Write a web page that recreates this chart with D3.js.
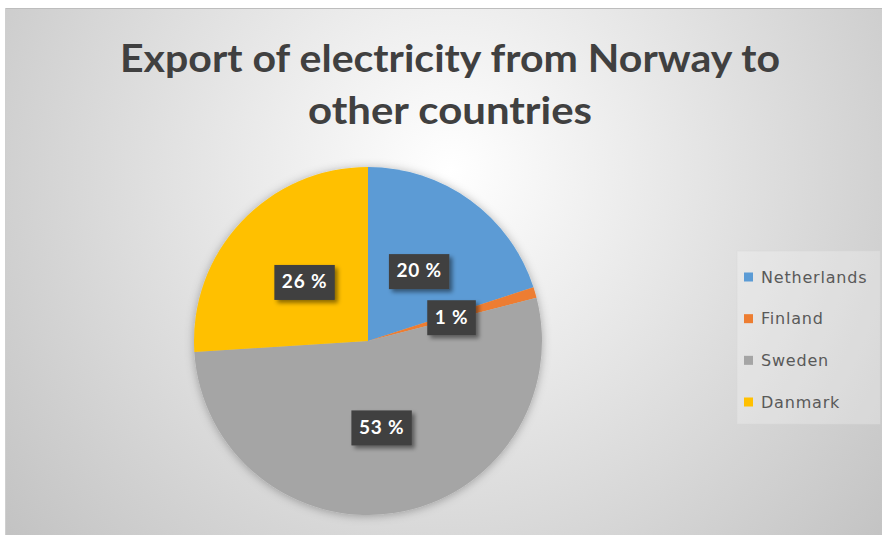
<!DOCTYPE html>
<html>
<head>
<meta charset="utf-8">
<script src="https://cdn.jsdelivr.net/npm/d3@7"></script>
<style>
  html, body { margin: 0; padding: 0; background: #ffffff; }
  svg { display: block; }
</style>
</head>
<body>
<svg id="chart" width="882" height="535"></svg>
<script>
// Share of Norway's electricity export by destination (percent)
const countries = ["Netherlands", "Finland", "Sweden", "Danmark"];
const shares = [20, 1, 53, 26];
const sliceColors = ["#5B9BD5", "#ED7D31", "#A5A5A5", "#FFC000"];
const titleLines = ["Export of electricity from Norway to", "other countries"];
const titleWidths = [660, 284];

const W = 882, H = 535;
const svg = d3.select("#chart");
const defs = svg.append("defs");

// panel background: soft radial light
const grad = defs.append("radialGradient")
  .attr("id", "bgGrad")
  .attr("gradientUnits", "userSpaceOnUse")
  .attr("cx", 450).attr("cy", 170).attr("r", 570);
grad.append("stop").attr("offset", "0%").attr("stop-color", "#ffffff");
grad.append("stop").attr("offset", "100%").attr("stop-color", "#c3c3c3");

// halo around the pie
const pieShadow = defs.append("filter").attr("id", "pieShadow")
  .attr("x", "-20%").attr("y", "-20%").attr("width", "140%").attr("height", "140%");
pieShadow.append("feDropShadow")
  .attr("dx", 0).attr("dy", 1).attr("stdDeviation", 5)
  .attr("flood-color", "#000").attr("flood-opacity", 0.3);

// shadow under the value boxes
const boxShadow = defs.append("filter").attr("id", "boxShadow")
  .attr("x", "-30%").attr("y", "-40%").attr("width", "160%").attr("height", "180%");
boxShadow.append("feDropShadow")
  .attr("dx", 3).attr("dy", 3).attr("stdDeviation", 2)
  .attr("flood-color", "#000").attr("flood-opacity", 0.45);

// chart area
svg.append("rect")
  .attr("x", 5).attr("y", 8).attr("width", W - 5).attr("height", H - 8)
  .attr("fill", "url(#bgGrad)");
svg.append("line")
  .attr("x1", 5).attr("x2", W).attr("y1", 8.5).attr("y2", 8.5)
  .attr("stroke", "#bdbdbd").attr("stroke-width", 1);
svg.append("line")
  .attr("x1", 5.5).attr("x2", 5.5).attr("y1", 8).attr("y2", H)
  .attr("stroke", "#cfcfcf").attr("stroke-width", 1);

// title
const titleY = d3.scaleLinear().domain([0, 1]).range([72, 124]);
svg.append("g").selectAll("text")
  .data(titleLines)
  .join("text")
  .attr("x", 450)
  .attr("y", (d, i) => titleY(i))
  .attr("text-anchor", "middle")
  .attr("font-family", "Lato, 'Open Sans', sans-serif")
  .attr("font-weight", 700)
  .attr("font-size", 38)
  .attr("textLength", (d, i) => titleWidths[i])
  .attr("lengthAdjust", "spacingAndGlyphs")
  .attr("fill", "#404040")
  .text(d => d);

// pie
const cx = 368, cy = 341, R = 174;
const pie = d3.pie().sort(null).value(d => d.value);
const arcs = pie(countries.map((c, i) => ({ name: c, value: shares[i] })));
const color = d3.scaleOrdinal().domain(countries).range(sliceColors);
const arc = d3.arc().innerRadius(0).outerRadius(R);

const gPie = svg.append("g").attr("transform", `translate(${cx},${cy})`);
gPie.append("g").attr("filter", "url(#pieShadow)")
  .selectAll("path")
  .data(arcs)
  .join("path")
  .attr("d", arc)
  .attr("fill", d => color(d.data.name));

// value labels in dark boxes at the slice centroids
const labels = gPie.append("g").selectAll("g")
  .data(arcs)
  .join("g")
  .attr("transform", d => `translate(${arc.centroid(d)})`);

labels.append("rect").attr("class", "lbox");
labels.append("text")
  .attr("text-anchor", "middle")
  .attr("dy", "0.36em")
  .attr("font-family", "Lato, 'Open Sans', sans-serif")
  .attr("font-weight", 700)
  .attr("font-size", 19)
  .attr("letter-spacing", 0.8)
  .attr("fill", "#ffffff")
  .text(d => `${d.data.value} %`);

labels.each(function () {
  const g = d3.select(this);
  const bb = g.select("text").node().getBBox();
  const w = bb.width + 15, h = 35;
  g.select("rect")
    .attr("x", -w / 2).attr("y", -h / 2 + 1)
    .attr("width", w).attr("height", h)
    .attr("fill", "#404040")
    .attr("filter", "url(#boxShadow)");
});

// legend
const legend = svg.append("g");
legend.append("rect")
  .attr("x", 737).attr("y", 251).attr("width", 143).attr("height", 173)
  .attr("fill", "#ffffff").attr("fill-opacity", 0.25)
  .attr("stroke", "#d9d9d9").attr("stroke-opacity", 0.5);

const legendY = d3.scalePoint().domain(countries).range([277, 402]);
const items = legend.selectAll("g.item")
  .data(countries)
  .join("g")
  .attr("class", "item")
  .attr("transform", d => `translate(744,${legendY(d)})`);
items.append("rect")
  .attr("x", 0).attr("y", -4.5).attr("width", 9).attr("height", 9)
  .attr("fill", d => color(d));
items.append("text")
  .attr("x", 17)
  .attr("dy", "0.36em")
  .attr("font-family", "'DejaVu Sans', Verdana, sans-serif")
  .attr("font-size", 16)
  .attr("letter-spacing", 0.8)
  .attr("fill", "#595959")
  .text(d => d);
</script>
</body>
</html>
